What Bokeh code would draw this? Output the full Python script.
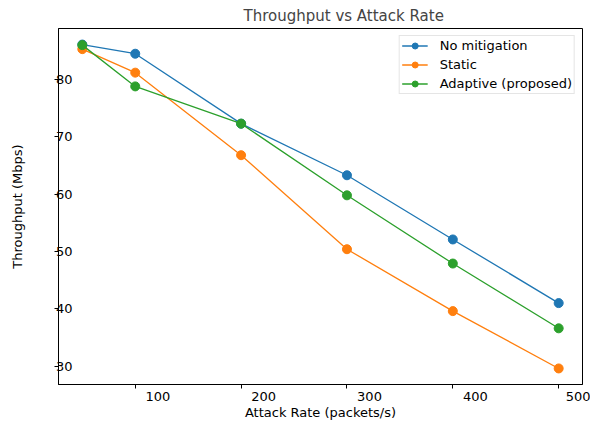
from bokeh.plotting import figure
from bokeh.models import Range1d, FixedTicker, Legend, LinearAxis, CustomJSTickFormatter
from bokeh.embed import file_html
from bokeh.resources import INLINE

attack_rate = [50, 100, 200, 300, 400, 500]
no_mitigation = [86.1, 84.5, 72.3, 63.3, 52.1, 41.0]
static = [85.3, 81.2, 66.8, 50.4, 39.6, 29.6]
adaptive = [86.0, 78.8, 72.3, 59.8, 47.9, 36.6]
x_ticks = [100, 200, 300, 400, 500]
y_ticks = [30, 40, 50, 60, 70, 80]

series = [
    ("No mitigation", no_mitigation, "#1f77b4"),
    ("Static", static, "#ff7f0e"),
    ("Adaptive (proposed)", adaptive, "#2ca02c"),
]

FONT = "DejaVu Sans"
X0, X1 = 27.5, 522.5
LABEL_SHIFT = 21.3  # tick labels sit to the right of their ticks in the reference

p = figure(output_backend="svg", toolbar_location=None,
           x_range=Range1d(X0, X1), y_range=Range1d(26.8, 88.9),
           frame_width=524, frame_height=356,
           min_border_left=58, min_border_right=8, min_border_top=28, min_border_bottom=42,
           title="Throughput vs Attack Rate", x_axis_location=None)
p.extra_x_ranges = {"lab": Range1d(X0 - LABEL_SHIFT, X1 - LABEL_SHIFT)}

p.title.text_font = FONT
p.title.text_font_size = "15px"
p.title.text_font_style = "normal"
p.title.align = "left"
p.title.offset = 185
p.title.standoff = 8

p.xgrid.visible = False
p.ygrid.visible = False
p.outline_line_color = "black"
p.outline_line_width = 1
p.outline_line_alpha = 1

# bottom axis: line + ticks at the data positions
xt = LinearAxis(ticker=FixedTicker(ticks=x_ticks, minor_ticks=[]),
                formatter=CustomJSTickFormatter(code="return ''"))
xt.axis_line_color = "black"
xt.major_tick_line_color = "black"
xt.minor_tick_line_color = None
xt.major_tick_in = 0
xt.major_tick_out = 4
xt.major_label_text_font_size = "0px"
xt.major_label_standoff = 0
p.add_layout(xt, "below")

# tick labels and axis title
xl = LinearAxis(x_range_name="lab", ticker=FixedTicker(ticks=x_ticks, minor_ticks=[]),
                axis_label="Attack Rate (packets/s)")
xl.axis_line_color = None
xl.major_tick_line_color = None
xl.minor_tick_line_color = None
xl.major_tick_in = 0
xl.major_tick_out = 0
xl.major_label_standoff = 3
xl.major_label_text_font = FONT
xl.major_label_text_font_size = "13px"
xl.major_label_text_color = "black"
xl.axis_label_standoff = 1
xl.axis_label_text_font = FONT
xl.axis_label_text_font_size = "13px"
xl.axis_label_text_font_style = "normal"
xl.axis_label_text_color = "black"
p.add_layout(xl, "below")

ya = p.yaxis[0]
ya.ticker = FixedTicker(ticks=y_ticks, minor_ticks=[])
ya.axis_label = "Throughput (Mbps)"
ya.axis_line_color = "black"
ya.major_tick_line_color = "black"
ya.minor_tick_line_color = None
ya.major_tick_in = 0
ya.major_tick_out = 4
ya.major_label_standoff = -18
ya.major_label_text_font = FONT
ya.major_label_text_font_size = "13px"
ya.major_label_text_color = "black"
ya.axis_label_standoff = 28
ya.axis_label_text_font = FONT
ya.axis_label_text_font_size = "13px"
ya.axis_label_text_font_style = "normal"
ya.axis_label_text_color = "black"

items = []
for name, vals, color in series:
    r1 = p.line(attack_rate, vals, line_color=color, line_width=1.3)
    r2 = p.scatter(attack_rate, vals, marker="circle", size=9, fill_color=color, line_color=color)
    items.append((name, [r1, r2]))

legend = Legend(items=items, location="top_right")
legend.label_text_font = FONT
legend.label_text_font_size = "13px"
legend.label_text_color = "black"
legend.glyph_width = 26
legend.glyph_height = 15
legend.label_height = 15
legend.spacing = 4
legend.padding = 2
legend.margin = 7
legend.label_standoff = 12
legend.border_line_color = "#cccccc"
legend.border_line_width = 1
legend.background_fill_alpha = 0.8
p.add_layout(legend)

open("out.html", "w").write(file_html(p, INLINE))
